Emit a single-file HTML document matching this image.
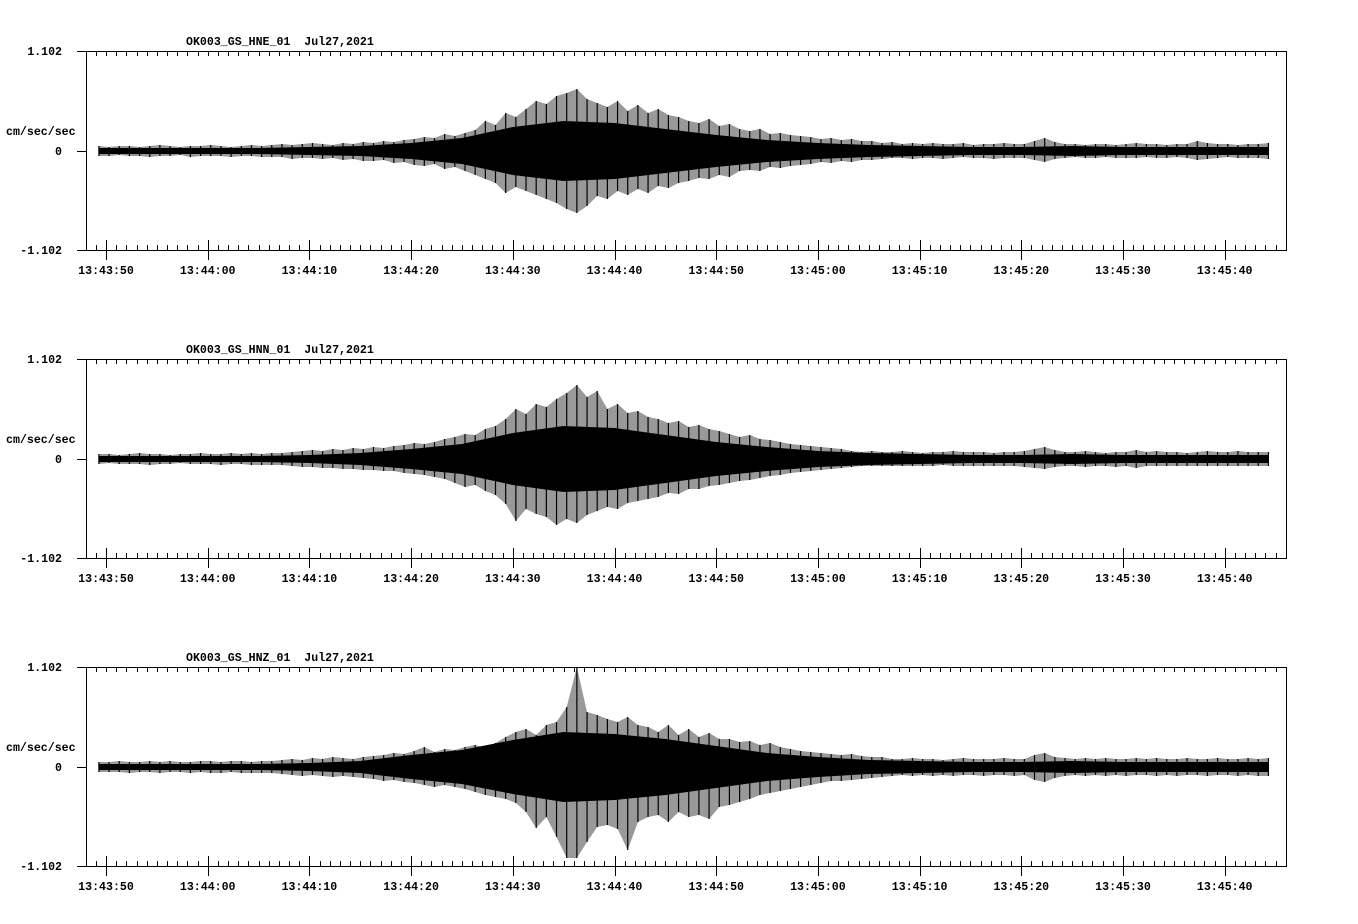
<!DOCTYPE html>
<html><head><meta charset="utf-8"><title>OK003 accelerograms</title>
<style>
html,body{margin:0;padding:0;background:#fff;}
svg{display:block;}
text{font-family:"Liberation Mono",monospace;font-weight:bold;font-size:11.6px;fill:#000;}
</style></head>
<body>
<svg id="chart" width="1358" height="924" viewBox="0 0 1358 924" xmlns="http://www.w3.org/2000/svg"></svg>
<script>
// Channel names
const channels = ["OK003_GS_HNE_01", "OK003_GS_HNN_01", "OK003_GS_HNZ_01"];
const dateLabel = "Jul27,2021";
const fullScale = 1.102; // cm/sec/sec
const tickLabels = ["13:43:50","13:44:00","13:44:10","13:44:20","13:44:30","13:44:40","13:44:50","13:45:00","13:45:10","13:45:20","13:45:30","13:45:40"];
// Envelope samples: 1 s apart, starting at t0 seconds after 13:43:50
// values in percent of full scale (1.102 cm/sec/sec)
const t0 = -0.7;
const upE = [5,4,5,5,4,5,6,5,4,5,5,6,5,4,5,6,5, 6,7,6,7,8,7,6,8,7,9, 8,10,9,11,12, 14,13,17,15,18,21, 30,26,38,34, 42,50,47,55,58,62,52, 48,44,50,40,46,38,42,36, 34,30,28,32,25,27,22, 20,22,17,18,16,15, 14,12,13,11,12,10,10, 8,9,7,8,7,8,7,7,8,6,7,7,8,7,7, 10,13,9, 7,7,6,7,7,6,7,8,7,7,6,7,7, 10,8, 7,7,6,7,7,8];
const dnE = [5,5,4,5,5,6,5,5,4,6,5,5,5,6,5,5,6, 6,6,8,7,7,8,7,9,8,10, 10,9,12,11,14, 15,13,18,16,20,24, 28,32,42,36, 40,44,48,52,58,62,55, 45,48,40,44,38,42,35,37, 32,30,27,28,24,26,20, 19,20,16,17,15,14, 13,11,12,10,11,9,9, 8,7,7,8,7,7,8,7,6,7,7,8,7,7,7, 9,11,8, 7,6,7,7,6,7,7,7,6,7,7,6,7, 9,8, 7,6,7,7,7,8];
const upN = [5,5,4,5,6,5,5,4,5,5,6,5,5,6,5,6,5,6,6, 7,8,9,8,10,9,11,10,12,11,13, 14,16,15,17,20, 22,25,24,30,33, 40,50,45,55,52, 60,66,74,62,68, 50,55,46,48,42, 40,36,38,32,34,30,28, 25,22,24,20,19,17, 15,14,13,12,11,10, 8,7,8,7,7,8,7,6,7,7,8,7,7,7,6,7,7,8, 10,12,9, 7,7,8,7,6,7,7,9,7,8,7,7,6,7,8,7,7,8,7,7,7];
const dnN = [5,4,5,5,5,6,5,5,4,5,5,5,6,5,5,6,6,6,6, 7,8,8,9,9,10,10,11,11,12,12, 14,15,16,18,20, 24,28,26,32,36, 45,62,50,55,58, 66,60,64,56,52, 48,50,44,42,40, 38,34,35,30,30,27,26, 24,22,21,19,17,16, 14,13,12,11,10,9, 8,7,7,7,7,7,7,7,7,6,7,7,7,7,7,7,7,8, 9,10,8, 7,7,8,7,7,8,7,9,7,7,7,7,7,7,7,7,7,7,7,7,7];
const upZ = [5,5,6,5,5,6,5,6,5,5,6,6,5,6,6,5,6,6,7, 8,7,9,8,10,9,8,10,11,12,14,13, 16,20,15,18,17,20,22,19,24, 30,35,38,32,42, 45,60,100,55, 52,48,45,50,42, 40,35,42,32,38,30,34,28, 28,25,26,22,24,20,18,16, 15,14,13,12,13,11,10,10, 8,8,9,8,8,7,8,9,8,8,8,9,8,8, 12,14,10, 9,8,9,8,9,8,8,9,8,9,8,8,9,8,8,9,8,8,9,8,9];
const dnZ = [5,5,5,6,5,5,6,5,5,6,5,6,6,5,6,6,6,6,7, 8,9,8,9,10,9,10,11,12,14,13,15, 16,18,20,18,20,22,25,28,30, 32,36,45,61,50, 70,91,91,75, 60,58,62,83,55, 50,48,55,45,50,48,52,40, 38,35,32,28,26,24,22,20, 18,16,14,14,13,12,11,10, 9,8,9,8,9,8,9,8,8,9,8,8,9,8, 13,15,11, 9,8,9,8,9,8,9,8,8,9,8,9,8,8,9,8,8,9,8,9,9];
// Dense-core amplitude every 5 s (t = 0,5,...,115), percent of full scale
const coreE = [3,3,3,3,4,5,8,13,24,30,28,22,16,11,8,6,5,4,4,5,4,4,4,4];
const coreN = [3,3,3,3,4,6,10,15,26,33,31,24,17,12,8,6,5,4,4,5,4,4,4,4];
const coreZ = [3,3,3,3,4,6,12,17,27,35,33,28,21,14,10,7,6,5,5,6,5,5,5,5];

const ups = [upE, upN, upZ], dns = [dnE, dnN, dnZ], cores = [coreE, coreN, coreZ];
const zeros = [151, 459, 767];
const NS = "http://www.w3.org/2000/svg";
const svg = document.getElementById("chart");
const X0 = 106, PXS = 10.17; // x of 13:43:50, px per second
function xs(t){ return X0 + t * PXS; }
function mk(tag, attrs, parent){ const e = document.createElementNS(NS, tag); for (const k in attrs) e.setAttribute(k, attrs[k]); (parent||svg).appendChild(e); return e; }

for (let p = 0; p < 3; p++) {
  const y0 = zeros[p];
  const ys = v => y0 - (v / 100) * 100; // percent of full scale -> px (100px = full scale)
  const g = mk("g", {});
  
  
  const up = ups[p], dn = dns[p], core = cores[p];
  const tEnd = t0 + up.length - 1;
  let pts = [];
  for (let i = 0; i < up.length; i++) pts.push(xs(t0 + i).toFixed(1) + "," + ys(up[i]).toFixed(1));
  for (let i = dn.length - 1; i >= 0; i--) pts.push(xs(t0 + i).toFixed(1) + "," + ys(-dn[i]).toFixed(1));
  const env = mk("polygon", {points: pts.join(" "), fill: "#000", "fill-opacity": "0.4"}, g);
  
  
  let cp = [];
  const ct = core.map((v, i) => i * 5);
  const cval = t => { const k = Math.min(Math.floor(t / 5), core.length - 2); const f = (t - ct[k]) / 5; return core[k] + (core[k+1] - core[k]) * Math.max(0, Math.min(1, f)); };
  const samp = [t0]; for (let t = 0; t <= tEnd; t += 5) samp.push(t); samp.push(tEnd);
  for (const t of samp) cp.push(xs(t).toFixed(1) + "," + ys(cval(Math.max(0, t))).toFixed(1));
  for (let i = samp.length - 1; i >= 0; i--) cp.push(xs(samp[i]).toFixed(1) + "," + ys(-cval(Math.max(0, samp[i]))).toFixed(1));
  const cpoly = mk("polygon", {points: cp.join(" "), fill: "#000"}, g);
  
  
  for (let i = 0; i < up.length; i++) {
    const x = xs(t0 + i);
    const s = mk("line", {x1: x, x2: x, y1: ys(up[i]), y2: ys(-dn[i]), stroke: "#000", "stroke-width": 1.2}, g);
    
    
  }
  const top = y0 - 100, bot = y0 + 99;
  const fr = mk("path", {d: `M77 ${top+0.5}H1286.5V${bot+0.5}H77M86.5 ${top}V${bot}M77 ${y0+0.5}H86`, fill: "none", stroke: "#000", "stroke-width": 1}, g);
  
  
  let d = "";
  for (let s = -1; s <= 116; s++) {
    const x = Math.round(xs(s)) + 0.5;
    if (x > 1285) continue;
    d += `M${x} ${top}V${top+5}`;
    if (s % 10 === 0) d += `M${x} ${bot-10}V${bot+10}`; else d += `M${x} ${bot-5}V${bot}`;
  }
  const tk = mk("path", {d: d, stroke: "#000", "stroke-width": 1, fill: "none"}, g);
  
  
  tickLabels.forEach((lab, k) => {
    const t = mk("text", {x: xs(k * 10), y: y0 + 123, "text-anchor": "middle"}, g);
    t.textContent = lab;
    
    
  });
  const yl = [["1.102", top + 4], ["0", y0 + 4], ["-1.102", bot + 4]];
  yl.forEach(a => {
    const t = mk("text", {x: 62, y: a[1], "text-anchor": "end"}, g);
    t.textContent = a[0];
    
    
  });
  const un = mk("text", {x: 6, y: y0 - 16}, g);
  un.textContent = "cm/sec/sec";
  
  
  const ti = mk("text", {x: 186, y: y0 - 106}, g);
  ti.textContent = channels[p] + "\u00a0\u00a0" + dateLabel;
  
  
}
</script>
</body></html>
